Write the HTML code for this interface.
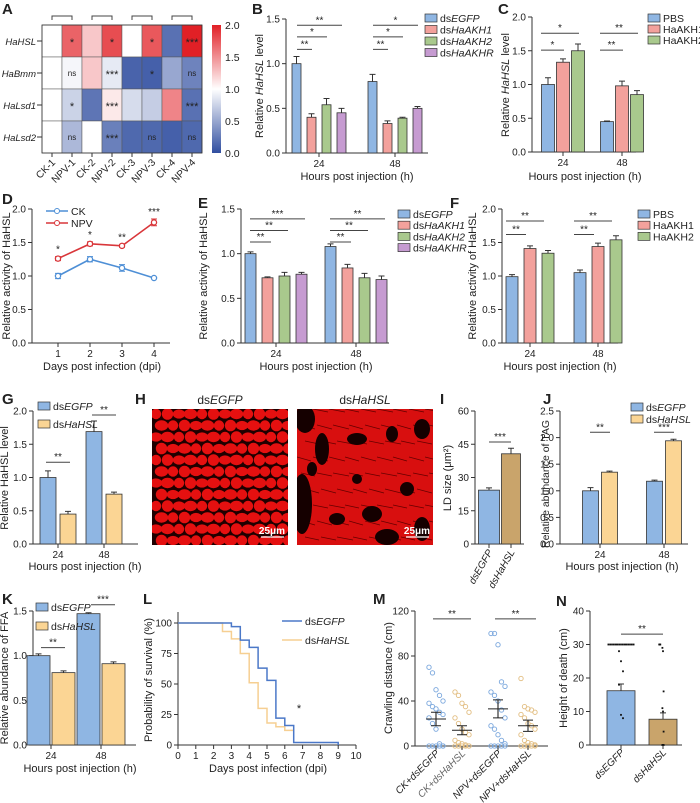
<!DOCTYPE html>
<html><head><meta charset="utf-8">
<style>
html,body{margin:0;padding:0;background:#fff;}
svg{display:block;font-family:"Liberation Sans",Arial,sans-serif;}
text{fill:#222;}
</style></head>
<body>
<svg id="fig" width="700" height="803" viewBox="0 0 700 803"></svg>
<script>
// ---------- DATA ----------
const heatCols=['CK-1','NPV-1','CK-2','NPV-2','CK-3','NPV-3','CK-4','NPV-4'];
const heatRows=['HaHSL','HaBmm','HaLsd1','HaLsd2'];
const heatHSL=[1.0,1.7,1.25,1.8,1.0,1.75,0.2,2.0];
const heatBmm=[1.0,0.95,1.25,0.88,0.12,0.1,0.5,0.3];
const heatLsd1=[1.0,0.75,0.22,1.1,0.8,0.72,1.55,0.2];
const heatLsd2=[1.0,0.6,1.0,0.28,0.15,0.15,0.1,0.15];
const heatSig=[['','*','','*','','*','','***'],['','ns','','***','','*','','ns'],['','*','','***','','','','***'],['','ns','','***','','ns','','ns']];

const hoursGroups=['24','48'];
const bLegend=['dsEGFP','dsHaAKH1','dsHaAKH2','dsHaAKHR'];
const bVals24=[1.0,0.40,0.54,0.45]; const bErr24=[0.08,0.04,0.07,0.05];
const bVals48=[0.80,0.33,0.39,0.50]; const bErr48=[0.08,0.03,0.01,0.02];
const bSigs=[['**','*','**'],['**','*','*']];
const bSigY=[1.16,1.30,1.43];

const cLegend=['PBS','HaAKH1','HaAKH2'];
const cVals24=[1.0,1.33,1.5]; const cErr24=[0.1,0.05,0.1];
const cVals48=[0.45,0.98,0.85]; const cErr48=[0.01,0.07,0.06];
const cSigs=[['*','*'],['**','**']];
const cSigY=[1.51,1.76];

const dDays=[1,2,3,4];
const dCK=[1.0,1.25,1.12,0.97]; const dCKerr=[0.04,0.04,0.05,0.01];
const dNPV=[1.26,1.48,1.45,1.8]; const dNPVerr=[0.03,0.03,0.02,0.05];
const dSig=['*','*','**','***'];

const eVals24=[1.0,0.73,0.75,0.77]; const eErr24=[0.02,0.01,0.04,0.02];
const eVals48=[1.08,0.84,0.73,0.71]; const eErr48=[0.03,0.04,0.05,0.04];
const eSigs=[['**','**','***'],['**','**','**']];
const eSigY=[1.13,1.26,1.39];

const fVals24=[0.99,1.41,1.34]; const fErr24=[0.03,0.04,0.04];
const fVals48=[1.05,1.44,1.54]; const fErr48=[0.04,0.05,0.06];
const fSigs=[['**','**'],['**','**']];
const fSigY=[1.62,1.82];

const hslLegend=['dsEGFP','dsHaHSL'];
const gVals24=[1.0,0.45]; const gErr24=[0.1,0.04];
const gVals48=[1.69,0.75]; const gErr48=[0.16,0.03];
const gSigY=[1.23,1.94];

const iVals=[24.3,40.7]; const iErr=[1.0,2.5]; const iSigY=46;
const jVals24=[1.0,1.35]; const jErr24=[0.06,0.02];
const jVals48=[1.18,1.94]; const jErr48=[0.02,0.03];
const jSigY=[2.1,2.1]; const jSigs=['**','***'];
const kVals24=[1.0,0.81]; const kErr24=[0.02,0.02];
const kVals48=[1.47,0.91]; const kErr48=[0.01,0.02];
const kSigY=[1.09,1.57]; const kSigs=['**','***'];

const lTimeEGFP=[0,3,3.5,4,4.5,5,5.5,6,6.5,9];
const lSurvEGFP=[100,97,86,80,63,53,22,16,2,2];
const lTimeHSL=[0,2.5,3,3.5,4,4.5,5,5.5,6,6.5];
const lSurvHSL=[100,93,87,75,51,30,18,15,12,12];

const mGroups=['CK+dsEGFP','CK+dsHaHSL','NPV+dsEGFP','NPV+dsHaHSL'];
const mCKE=[70,65,50,45,40,38,35,33,30,28,25,20,15,2,0,0,0,0,0,0];
const mCKH=[48,45,38,35,30,25,20,15,12,10,5,3,2,1,0,0,0,0,0,0];
const mNE=[100,100,90,57,53,48,45,40,32,25,18,15,10,5,2,0,0,0,0,0];
const mNH=[60,35,33,32,30,28,25,20,18,15,10,5,3,2,1,0,0,0,0,0];
const mMean=[24,14,33,18]; const mSem=[6,4,8,5];

const nVals=[16.2,7.7]; const nErr=[2.0,1.9];
const nPtsE=[30,30,30,30,30,30,30,30,30,30,30,30,30,30,30,28,25,22,18,9,8];
const nPtsH=[30,30,30,29,28,16,11,10,4,0,0,0,0,0,0,0,0,0];

// ---------- HELPERS ----------
const NS='http://www.w3.org/2000/svg';
const svg=document.getElementById('fig');
function mk(tag,attrs,parent,txt){const e=document.createElementNS(NS,tag);for(const k in attrs)e.setAttribute(k,attrs[k]);(parent||svg).appendChild(e);if(txt!==undefined)e.textContent=txt;return e;}
const COL={blue:'#8fb6e3',pink:'#f3a19c',green:'#a9c98d',purple:'#c69bd1',tan:'#fbd594',brown:'#c9a46b'};
const STROKE='#333';
function lin(d0,d1,r0,r1){return v=>r0+(v-d0)*(r1-r0)/(d1-d0);}
function letter(t,x,y){const e=mk('text',{x:x,y:y,'font-size':15,'font-weight':'bold'},svg,t);

}
function yAxis(g,x,y0,y1,max,step,dec,name){
  const ys=lin(0,max,y0,y1);
  const ax=mk('line',{x1:x,y1:y0,x2:x,y2:y1,stroke:STROKE,'stroke-width':1},g);
  
  
  for(let v=0;v<=max+1e-9;v+=step){
    const t=mk('line',{x1:x-4,y1:ys(v),x2:x,y2:ys(v),stroke:STROKE},g);
    
    
    const l=mk('text',{x:x-6,y:ys(v)+3.5,'font-size':10,'text-anchor':'end'},g,v.toFixed(dec));
    
    
  }
  return ys;
}
function ytitle(g,x,y,txt,name,fs){const t=mk('text',{x:0,y:0,'font-size':fs||11,'text-anchor':'middle',transform:`translate(${x},${y}) rotate(-90)`},g);
t.innerHTML=txt;

}
function xtitle(g,x,y,txt,name){const t=mk('text',{x:x,y:y,'font-size':11,'text-anchor':'middle'},g);
t.innerHTML=txt;

}
function xAxisLine(g,x0,x1,y,name){const l=mk('line',{x1:x0,y1:y,x2:x1,y2:y,stroke:STROKE},g);

}
function xTick(g,x,y,lab,name){const t=mk('line',{x1:x,y1:y,x2:x,y2:y+4,stroke:STROKE},g);


const l=mk('text',{x:x,y:y+14,'font-size':10,'text-anchor':'middle'},g,lab);

}
function bar(g,cx,w,ys,v,err,fill,name){
  const r=mk('rect',{x:cx-w/2,y:ys(v),width:w,height:ys(0)-ys(v),fill:fill,stroke:STROKE,'stroke-width':0.8},g);
  
  
  if(err>0){const e=mk('path',{d:`M${cx},${ys(v)}V${ys(v+err)}M${cx-3},${ys(v+err)}H${cx+3}`,stroke:STROKE,fill:'none','stroke-width':1},g);
  
  }
}
function sig(g,x0,x1,y,txt,name){
  const l=mk('line',{x1:x0,y1:y,x2:x1,y2:y,stroke:'#444','stroke-width':1},g);
  
  
  const t=mk('text',{x:(x0+x1)/2,y:y-2,'font-size':10,'text-anchor':'middle'},g,txt);
  
  
}
function legend(g,x,y,dy,labels,cols,name){
  labels.forEach((lb,i)=>{
    const r=mk('rect',{x:x,y:y+i*dy-7,width:12,height:8,fill:cols[i],stroke:STROKE,'stroke-width':0.7},g);
    
    
    const t=mk('text',{x:x+15,y:y+i*dy+1,'font-size':10.5},g);
    if(lb.startsWith('ds')) t.innerHTML='ds<tspan font-style="italic">'+lb.slice(2)+'</tspan>'; else t.textContent=lb;
    
    
  });
}
function groupedBars(g,name,ys,centers,groupsVals,groupsErr,cols,w,sp){
  groupsVals.forEach((vals,gi)=>{
    const n=vals.length;
    vals.forEach((v,i)=>{const cx=centers[gi]+(i-(n-1)/2)*sp;bar(g,cx,w,ys,v,groupsErr[gi][i],cols[i],name+'-bar-'+hoursGroups[gi]+'-'+i);});
  });
}
function grp(name){const g=mk('g',{});return g;}

// ---------- A HEATMAP ----------
(function(){
  letter('A',2,14);
  const g=grp('panel-a-heatmap');
  const x0=42,y0=25,cw=20,ch=32;
  const rows=[heatHSL,heatBmm,heatLsd1,heatLsd2];
  function cmap(v){const lo=[48,78,160],mid=[255,255,255],hi=[225,32,38];
    let a,b,t; if(v<1){a=lo;b=mid;t=Math.max(0,v);}else{a=mid;b=hi;t=Math.min(1,v-1);}
    return `rgb(${a.map((c,k)=>Math.round(c+(b[k]-c)*t)).join(',')})`;}
  rows.forEach((row,r)=>{
    row.forEach((v,c)=>{
      const rc=mk('rect',{x:x0+c*cw,y:y0+r*ch,width:cw,height:ch,fill:cmap(v),stroke:'#555','stroke-width':0.5},g);
      
      
      if(heatSig[r][c]){const t=mk('text',{x:x0+c*cw+cw/2,y:y0+r*ch+ch/2+(heatSig[r][c]==='ns'?3:5),'font-size':heatSig[r][c]==='ns'?8:11,'text-anchor':'middle'},g,heatSig[r][c]);
        
        }
    });
    const t=mk('text',{x:36,y:y0+r*ch+ch/2+4,'font-size':9.5,'font-style':'italic','text-anchor':'end'},g,heatRows[r]);
    
    
    const tk=mk('line',{x1:37,y1:y0+r*ch+ch/2,x2:x0,y2:y0+r*ch+ch/2,stroke:STROKE},g);
    
    
  });
  const bx=mk('rect',{x:x0,y:y0,width:cw*8,height:ch*4,fill:'none',stroke:'#333','stroke-width':0.8},g);
  
  
  heatCols.forEach((c,i)=>{
    const cx=x0+i*cw+cw/2;
    const tk=mk('line',{x1:cx,y1:y0+ch*4,x2:cx,y2:y0+ch*4+4,stroke:STROKE},g);
    
    
    const t=mk('text',{x:0,y:0,'font-size':10,'text-anchor':'end',transform:`translate(${cx+4},${y0+ch*4+10}) rotate(-45)`},g,c);
    
    
    if(i%2===0){const b=mk('path',{d:`M${cx},${y0-5}V${y0-9}H${cx+cw}V${y0-5}`,fill:'none',stroke:'#444'},g);
      
      }
  });
  const defs=mk('defs',{},g);
  const lg=mk('linearGradient',{id:'cb',x1:0,y1:1,x2:0,y2:0},defs);
  mk('stop',{offset:'0',  'stop-color':cmap(0)},lg);
  mk('stop',{offset:'0.5','stop-color':cmap(1)},lg);
  mk('stop',{offset:'1',  'stop-color':cmap(2)},lg);
  const cb=mk('rect',{x:212,y:y0,width:9,height:ch*4,fill:'url(#cb)'},g);
  
  
  [0,0.5,1,1.5,2].forEach(v=>{const t=mk('text',{x:225,y:y0+ch*4-v/2*ch*4+4,'font-size':10.5},g,v.toFixed(1));
    
    });
})();

// ---------- B ----------
(function(){
  letter('B',252,14);
  const g=grp('panel-b-chart');
  const ys=yAxis(g,286,153,19,1.5,0.5,1,'b');
  xAxisLine(g,286,428,153,'b');
  const centers=[319,395];
  centers.forEach((c,i)=>xTick(g,c,153,hoursGroups[i],'b'));
  const cols=[COL.blue,COL.pink,COL.green,COL.purple];
  groupedBars(g,'b',ys,centers,[bVals24,bVals48],[bErr24,bErr48],cols,9,15);
  centers.forEach((c,gi)=>bSigs[gi].forEach((s,k)=>sig(g,c-22,c-22+15*(k+1),ys(bSigY[k]),s,'b')));
  ytitle(g,263,86,'Relative <tspan font-style="italic">HaHSL</tspan> level','b');
  xtitle(g,357,180,'Hours post injection (h)','b');
  legend(g,425,21,11.5,bLegend,cols,'b');
})();

// ---------- C ----------
(function(){
  letter('C',498,14);
  const g=grp('panel-c-chart');
  const ys=yAxis(g,532,152,17,2,0.5,1,'c');
  xAxisLine(g,532,636,152,'c');
  const centers=[563,622];
  centers.forEach((c,i)=>xTick(g,c,152,hoursGroups[i],'c'));
  const cols=[COL.blue,COL.pink,COL.green];
  groupedBars(g,'c',ys,centers,[cVals24,cVals48],[cErr24,cErr48],cols,13,15);
  centers.forEach((c,gi)=>cSigs[gi].forEach((s,k)=>sig(g,c-22,c-7+15*(k+1)-7,ys(cSigY[k]),s,'c')));
  ytitle(g,509,85,'Relative <tspan font-style="italic">HaHSL</tspan> level','c');
  xtitle(g,585,180,'Hours post injection (h)','c');
  legend(g,648,21,11,cLegend,cols,'c');
})();

// ---------- D ----------
(function(){
  letter('D',2,204);
  const g=grp('panel-d-chart');
  const ys=yAxis(g,32,343,209,2,0.5,1,'d');
  xAxisLine(g,32,170,343,'d');
  const xs=lin(1,4,58,154);
  dDays.forEach(d=>xTick(g,xs(d),343,String(d),'d'));
  [[dCK,dCKerr,'#4e8fd6','ck'],[dNPV,dNPVerr,'#d9363a','npv']].forEach(([vals,errs,c,nm])=>{
    const ln=mk('polyline',{points:dDays.map((d,i)=>xs(d)+','+ys(vals[i])).join(' '),fill:'none',stroke:c,'stroke-width':1.6},g);
    
    
    dDays.forEach((d,i)=>{
      const e=mk('path',{d:`M${xs(d)},${ys(vals[i]-errs[i])}V${ys(vals[i]+errs[i])}M${xs(d)-3},${ys(vals[i]+errs[i])}H${xs(d)+3}M${xs(d)-3},${ys(vals[i]-errs[i])}H${xs(d)+3}`,stroke:c,fill:'none'},g);
      
      
      const p=mk('circle',{cx:xs(d),cy:ys(vals[i]),r:2.6,fill:'#fff',stroke:c,'stroke-width':1.3},g);
      
      
    });
  });
  dDays.forEach((d,i)=>{const t=mk('text',{x:xs(d),y:ys(dNPV[i]+dNPVerr[i])-4,'font-size':10,'text-anchor':'middle'},g,dSig[i]);
    
    });
  [['CK','#4e8fd6',211],['NPV','#d9363a',223]].forEach(([lb,c,y])=>{
    const l=mk('line',{x1:46,y1:y,x2:68,y2:y,stroke:c,'stroke-width':1.6},g);
    
    
    const ci=mk('circle',{cx:57,cy:y,r:2.5,fill:'#fff',stroke:c},g);
    
    
    const t=mk('text',{x:71,y:y+4,'font-size':10.5},g,lb);
    
    
  });
  ytitle(g,10,276,'Relative activity of HaHSL','d');
  xtitle(g,102,370,'Days post infection (dpi)','d');
})();

// ---------- E ----------
(function(){
  letter('E',198,208);
  const g=grp('panel-e-chart');
  const ys=yAxis(g,241,343,209,1.5,0.5,1,'e');
  xAxisLine(g,241,389,343,'e');
  const centers=[276,356];
  centers.forEach((c,i)=>xTick(g,c,343,hoursGroups[i],'e'));
  const cols=[COL.blue,COL.pink,COL.green,COL.purple];
  groupedBars(g,'e',ys,centers,[eVals24,eVals48],[eErr24,eErr48],cols,11,17);
  centers.forEach((c,gi)=>eSigs[gi].forEach((s,k)=>sig(g,c-26,c-26+17*(k+1)+4,ys(eSigY[k]),s,'e')));
  ytitle(g,207,276,'Relative activity of HaHSL','e');
  xtitle(g,316,370,'Hours post injection (h)','e');
  legend(g,398,217,11.2,bLegend,cols,'e');
})();

// ---------- F ----------
(function(){
  letter('F',450,208);
  const g=grp('panel-f-chart');
  const ys=yAxis(g,502,343,209,2,0.5,1,'f');
  xAxisLine(g,502,618,343,'f');
  const centers=[530,598];
  centers.forEach((c,i)=>xTick(g,c,343,hoursGroups[i],'f'));
  const cols=[COL.blue,COL.pink,COL.green];
  groupedBars(g,'f',ys,centers,[fVals24,fVals48],[fErr24,fErr48],cols,12,18);
  centers.forEach((c,gi)=>fSigs[gi].forEach((s,k)=>sig(g,c-24,c-24+18*(k+1)+2,ys(fSigY[k]),s,'f')));
  ytitle(g,476,276,'Relative activity of HaHSL','f');
  xtitle(g,560,370,'Hours post injection (h)','f');
  legend(g,638,217,11.2,cLegend,cols,'f');
})();

// ---------- G ----------
(function(){
  letter('G',2,404);
  const g=grp('panel-g-chart');
  const ys=yAxis(g,33,544,411,2,0.5,1,'g');
  xAxisLine(g,33,138,544,'g');
  const centers=[58,104];
  centers.forEach((c,i)=>xTick(g,c,544,hoursGroups[i],'g'));
  const cols=[COL.blue,COL.tan];
  groupedBars(g,'g',ys,centers,[gVals24,gVals48],[gErr24,gErr48],cols,16,20);
  centers.forEach((c,gi)=>sig(g,c-12,c+12,ys(gSigY[gi]),'**','g'));
  ytitle(g,8,478,'Relative HaHSL level','g');
  xtitle(g,85,570,'Hours post injection (h)','g');
  legend(g,38,409,18,hslLegend,cols,'g');
})();

// ---------- H IMAGES ----------
(function(){
  letter('H',135,404);
  const g=grp('panel-h-images');
  [[152,'dsEGFP',0],[297,'dsHaHSL',1]].forEach(([x,lb,k])=>{
    const w=136,h=136,y=409;
    const cp=mk('clipPath',{id:'clip'+k},g);
    mk('rect',{x:x,y:y,width:w,height:h},cp);
    const bg=mk('rect',{x:x,y:y,width:w,height:h,fill:k?'#d80f0f':'#200000'},g);
    
    
    const tex=mk('g',{'clip-path':`url(#clip${k})`},g);
    
    
    if(!k){
      for(let r=0;r<12;r++)for(let c=0;c<12;c++){
        const v=(r*7+c*5)%4;
        mk('ellipse',{cx:x+c*11.5+(r%2)*5.5+4,cy:y+r*11.5+5,rx:5.2+v*0.5,ry:4.6+((v+1)%3)*0.6,fill:'#e51010'},tex);
      }
    } else {
      for(let r=0;r<9;r++)for(let c=0;c<9;c++){
        mk('path',{d:`M${x+c*16+(r%3)*4},${y+r*16}l${14+(c%3)},${3+(r%2)}`,stroke:'#600',fill:'none','stroke-width':0.8},tex);
      }
      [[8,10,10,14],[25,40,7,16],[60,30,10,6],[95,25,6,8],[125,20,8,10],[5,95,10,30],[40,110,8,6],[75,105,10,8],[110,80,7,7],[90,128,12,8],[125,120,8,12],[15,60,5,7],[60,70,5,5]].forEach(([dx,dy,rx,ry])=>{
        mk('ellipse',{cx:x+dx,cy:y+dy,rx:rx,ry:ry,fill:'#150000'},tex);
      });
    }
    const t=mk('text',{x:x+w/2,y:404,'font-size':12,'text-anchor':'middle'},g);
    t.innerHTML='ds<tspan font-style="italic">'+lb.slice(2)+'</tspan>';
    
    
    const sb=mk('line',{x1:x+w-27,y1:y+h-8,x2:x+w-4,y2:y+h-8,stroke:'#fff','stroke-width':1.2},g);
    
    
    const st=mk('text',{x:x+w-16,y:y+h-11,'font-size':10,'text-anchor':'middle','font-weight':'bold',style:'fill:#fff'},g,'25μm');
    
    
  });
})();

// ---------- I ----------
(function(){
  letter('I',440,404);
  const g=grp('panel-i-chart');
  const ys=yAxis(g,475,544,411,60,15,0,'i');
  xAxisLine(g,475,524,544,'i');
  const cs=[489,511];
  bar(g,cs[0],21,ys,iVals[0],iErr[0],COL.blue,'i-bar-dsEGFP');
  bar(g,cs[1],19,ys,iVals[1],iErr[1],COL.brown,'i-bar-dsHaHSL');
  sig(g,cs[0],cs[1],ys(iSigY),'***','i');
  hslLegend.forEach((lb,i)=>{
    const tk=mk('line',{x1:cs[i],y1:544,x2:cs[i],y2:548,stroke:STROKE},g);
    
    
    const t=mk('text',{x:0,y:0,'font-size':10,'font-style':'italic','text-anchor':'end',transform:`translate(${cs[i]+4},${552}) rotate(-60)`},g,lb);
    
    
  });
  ytitle(g,451,478,'LD size (μm²)','i');
})();

// ---------- J ----------
(function(){
  letter('J',543,404);
  const g=grp('panel-j-chart');
  const ys=yAxis(g,560,544,411,2.5,0.5,1,'j');
  xAxisLine(g,560,688,544,'j');
  const centers=[600,664];
  centers.forEach((c,i)=>xTick(g,c,544,hoursGroups[i],'j'));
  const cols=[COL.blue,COL.tan];
  groupedBars(g,'j',ys,centers,[jVals24,jVals48],[jErr24,jErr48],cols,16,19);
  centers.forEach((c,gi)=>sig(g,c-10,c+10,ys(jSigY[gi]),jSigs[gi],'j'));
  ytitle(g,549,484,'Relative abundance of TAG','j',10.5);
  xtitle(g,622,570,'Hours post injection (h)','j');
  legend(g,631,410,12,hslLegend,cols,'j');
})();

// ---------- K ----------
(function(){
  letter('K',2,604);
  const g=grp('panel-k-chart');
  const ys=yAxis(g,33,745,611,1.5,0.5,1,'k');
  xAxisLine(g,33,136,745,'k');
  const centers=[51,101];
  centers.forEach((c,i)=>xTick(g,c,745,hoursGroups[i],'k'));
  const cols=[COL.blue,COL.tan];
  groupedBars(g,'k',ys,centers,[kVals24,kVals48],[kErr24,kErr48],cols,23,25);
  centers.forEach((c,gi)=>sig(g,c-10,c+14,ys(kSigY[gi]),kSigs[gi],'k'));
  ytitle(g,8,678,'Relative abundance of FFA','k');
  xtitle(g,80,772,'Hours post injection (h)','k');
  legend(g,36,610,19,hslLegend,cols,'k');
})();

// ---------- L ----------
(function(){
  letter('L',143,604);
  const g=grp('panel-l-chart');
  const ys=yAxis(g,178,745,623,100,25,0,'l');
  const axtop=mk('line',{x1:178,y1:612,x2:178,y2:623,stroke:STROKE},g);
  
  
  const xs=lin(0,10,178,356);
  xAxisLine(g,178,356,745,'l');
  for(let d=0;d<=10;d++) xTick(g,xs(d),745,String(d),'l');
  function step(ts,ss){let p=`M${xs(ts[0])},${ys(ss[0])}`;for(let i=1;i<ts.length;i++){p+=`H${xs(ts[i])}V${ys(ss[i])}`;}return p;}
  const a=mk('path',{d:step(lTimeHSL,lSurvHSL),fill:'none',stroke:'#f6cf92','stroke-width':1.5},g);
  
  
  const b=mk('path',{d:step(lTimeEGFP,lSurvEGFP)+`V${ys(0)}`,fill:'none',stroke:'#4b78c8','stroke-width':1.5},g);
  
  
  [['dsEGFP','#4b78c8',621],['dsHaHSL','#f6cf92',640]].forEach(([lb,c,y])=>{
    const l=mk('line',{x1:282,y1:y,x2:302,y2:y,stroke:c,'stroke-width':1.5},g);
    
    
    const t=mk('text',{x:305,y:y+4,'font-size':10.5},g);
    t.innerHTML='ds<tspan font-style="italic">'+lb.slice(2)+'</tspan>';
    
    
  });
  const s=mk('text',{x:299,y:712,'font-size':11,'text-anchor':'middle'},g,'*');
  
  
  ytitle(g,152,680,'Probability of survival (%)','l');
  xtitle(g,268,772,'Days post infection (dpi)','l');
})();

// ---------- M ----------
(function(){
  letter('M',373,604);
  const g=grp('panel-m-chart');
  const ys=yAxis(g,415,746,611,120,40,0,'m');
  xAxisLine(g,415,548,746,'m');
  const centers=[436,462,498,528];
  const sets=[mCKE,mCKH,mNE,mNH];
  const cols=['#7aa7dd','#e2bd80','#7aa7dd','#e2bd80'];
  sets.forEach((pts,gi)=>{
    pts.forEach((v,i)=>{
      const off=((i%5)-2)*3.5;
      const c=mk('circle',{cx:centers[gi]+off,cy:ys(v),r:2.2,fill:'none',stroke:cols[gi],'stroke-width':0.9},g);
      
      
    });
    const cx=centers[gi];
    const mp=mk('path',{d:`M${cx-10},${ys(mMean[gi])}H${cx+10}M${cx},${ys(mMean[gi]-mSem[gi])}V${ys(mMean[gi]+mSem[gi])}M${cx-5},${ys(mMean[gi]-mSem[gi])}H${cx+5}M${cx-5},${ys(mMean[gi]+mSem[gi])}H${cx+5}`,stroke:'#222','stroke-width':1.1,fill:'none'},g);
    
    
    const tk=mk('line',{x1:cx,y1:746,x2:cx,y2:750,stroke:STROKE},g);
    
    
    const t=mk('text',{x:0,y:0,'font-size':10,'font-style':'italic','text-anchor':'end',transform:`translate(${cx+4},${754}) rotate(-45)`,style:gi===1?'fill:#666':''},g,mGroups[gi]);
    
    
  });
  sig(g,433,471,ys(113),'**','m');
  sig(g,495,536,ys(113),'**','m');
  ytitle(g,392,678,'Crawling distance (cm)','m');
})();

// ---------- N ----------
(function(){
  letter('N',556,606);
  const g=grp('panel-n-chart');
  const ys=yAxis(g,590,745,611,40,10,0,'n');
  xAxisLine(g,590,682,745,'n');
  const cs=[621,663];
  bar(g,cs[0],28,ys,nVals[0],nErr[0],COL.blue,'n-bar-dsEGFP');
  bar(g,cs[1],28,ys,nVals[1],nErr[1],COL.brown,'n-bar-dsHaHSL');
  [nPtsE,nPtsH].forEach((pts,gi)=>pts.forEach((v,i)=>{
    const off=v>=29.5?((i%15)-7)*1.8:((i%3)-1)*2;
    const p=mk('rect',{x:cs[gi]+(gi?off*0.3:off)-0.9,y:ys(v)-0.9,width:1.8,height:1.8,fill:'#111'},g);
    
    
  }));
  sig(g,cs[0],cs[1],ys(33.1),'**','n');
  hslLegend.forEach((lb,i)=>{
    const tk=mk('line',{x1:cs[i],y1:745,x2:cs[i],y2:749,stroke:STROKE},g);
    
    
    const t=mk('text',{x:0,y:0,'font-size':10,'font-style':'italic','text-anchor':'end',transform:`translate(${cs[i]+4},${753}) rotate(-45)`},g,lb);
    
    
  });
  ytitle(g,567,678,'Height of death (cm)','n');
})();
</script>
</body></html>
